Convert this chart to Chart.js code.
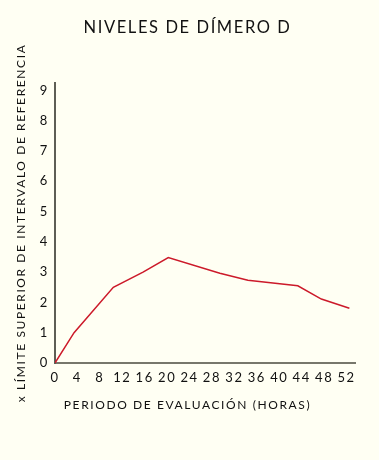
<!DOCTYPE html>
<html>
<head>
<meta charset="utf-8">
<script src="https://cdn.jsdelivr.net/npm/chart.js@4/dist/chart.umd.min.js"></script>
<style>
html,body{margin:0;padding:0;background:#fffff3;}
#wrap{width:379px;height:460px;position:relative;}
</style>
</head>
<body>
<div id="wrap"><canvas id="c"></canvas></div>
<script>
// ---- data ----
const hours = [0, 3.4, 10.4, 15.7, 20.2, 29.4, 34.4, 43.3, 47.5, 52.5];
const dimerValues = [0, 1.0, 2.5, 3.0, 3.48, 2.96, 2.73, 2.55, 2.11, 1.81];
const xTickValues = [0, 4, 8, 12, 16, 20, 24, 28, 32, 36, 40, 44, 48, 52];
const yTickValues = [0, 1, 2, 3, 4, 5, 6, 7, 8, 9];
const titleText = 'NIVELES DE DÍMERO D';
const xAxisLabel = 'PERIODO DE EVALUACIÓN (HORAS)';
const yAxisLabel = 'x LÍMITE SUPERIOR DE INTERVALO DE REFERENCIA';

const FONT = 'Lato, "Open Sans", sans-serif';
const SP = '1.6px';
const spacing = {
  id: 'spacing',
  beforeUpdate(c){ c.ctx.letterSpacing = SP; },
  beforeLayout(c){ c.ctx.letterSpacing = SP; },
  beforeRender(c){ c.ctx.letterSpacing = SP; },
  beforeDraw(c){ c.ctx.letterSpacing = SP; }
};

new Chart(document.getElementById('c'), {
  type: 'line',
  data: {
    datasets: [{
      data: hours.map((h, i) => ({x: h, y: dimerValues[i]})),
      borderColor: '#cc1a2a',
      borderWidth: 1.5,
      pointRadius: 0,
      tension: 0,
      fill: false
    }]
  },
  options: {
    responsive: true,
    maintainAspectRatio: false,
    animation: false,
    devicePixelRatio: 1,
    layout: {padding: {left: 20, right: 24, top: 0, bottom: 0}},
    plugins: {
      legend: {display: false},
      tooltip: {enabled: false},
      title: {
        display: true,
        text: titleText,
        color: '#111',
        font: {family: FONT, size: 16.5, weight: 'normal'},
        padding: {top: 18, bottom: 45}
      },
      subtitle: {
        display: true,
        position: 'bottom',
        text: xAxisLabel,
        color: '#111',
        font: {family: FONT, size: 12, weight: 'normal'},
        padding: {top: 5, bottom: 48}
      }
    },
    scales: {
      x: {
        type: 'linear',
        min: 0,
        max: 53.5,
        afterBuildTicks: s => { s.ticks = xTickValues.map(v => ({value: v})); },
        grid: {display: false, drawTicks: false},
        border: {display: true, color: '#77776b', width: 2},
        ticks: {color: '#111', padding: 7, autoSkip: false, maxRotation: 0, minRotation: 0,
                font: {family: FONT, size: 13}}
      },
      y: {
        type: 'linear',
        min: 0,
        max: 9.25,
        afterBuildTicks: s => { s.ticks = yTickValues.map(v => ({value: v})); },
        afterFit: s => { s.width = 35; },
        grid: {display: false, drawTicks: false},
        border: {display: true, color: '#5e5e55', width: 2},
        ticks: {color: '#111', padding: 6, font: {family: FONT, size: 13}},
        title: {
          display: true,
          text: yAxisLabel,
          color: '#111',
          font: {family: FONT, size: 12, weight: 'normal'},
          padding: {top: -6, bottom: 4}
        }
      }
    }
  },
  plugins: [spacing]
});
</script>
</body>
</html>
